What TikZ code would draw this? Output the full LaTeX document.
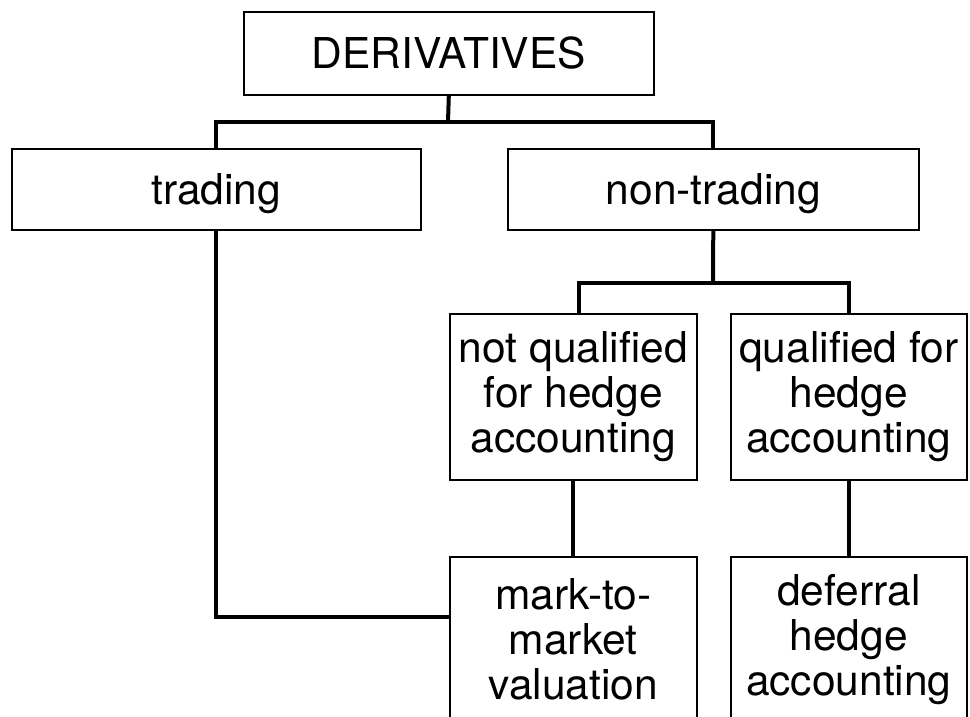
\documentclass[tikz,border=0pt]{standalone}
\usepackage{fontspec}
\setmainfont{TeX Gyre Heros}
\usepackage{tikz}
\usetikzlibrary{positioning}

\begin{document}
\begin{tikzpicture}[x=1pt,y=-1pt,
  box/.style={draw,line width=1.6pt,anchor=north west,inner sep=2pt,align=center,
    font=\fontsize{42.5pt}{45pt}\selectfont},
  conn/.style={line width=4pt}]
  \useasboundingbox (0,0) rectangle (970,717);
  \node[box,minimum width=410pt,minimum height=83pt] (deriv) at (243,11) {DERIVATIVES};
  \node[box,minimum width=409pt,minimum height=81pt,text depth=0pt] (trading) at (11,148) {trading};
  \node[box,minimum width=411pt,minimum height=81pt,text depth=0pt] (nontrading) at (507,148) {non-trading};
  \node[box,minimum width=247pt,minimum height=166pt] (notqual) at (449,313) {not qualified\\for hedge\\accounting};
  \node[box,minimum width=236pt,minimum height=166pt] (qual) at (730,313) {qualified for\\hedge\\accounting};
  \node[box,minimum width=247pt,minimum height=165pt] (mark) at (449,556) {mark-to-\\market\\valuation};
  \node[box,minimum width=236pt,minimum height=165pt] (defer) at (730,556) {deferral\\hedge\\accounting};
  \coordinate (jtop) at (448,122);
  \coordinate (jmid) at (713,283);
  \draw[conn] (deriv.south) -- (jtop);
  \draw[conn] (trading.north) |- (jtop) -| (nontrading.north);
  \draw[conn] (nontrading.south) -- (jmid);
  \draw[conn] ([xshift=6pt]notqual.north) |- (jmid) -| (qual.north);
  \draw[conn] (notqual.south) -- (mark.north);
  \draw[conn] (qual.south) -- (defer.north);
  \draw[conn] (trading.south) |- ([yshift=22pt]mark.west);
\end{tikzpicture}
\end{document}
